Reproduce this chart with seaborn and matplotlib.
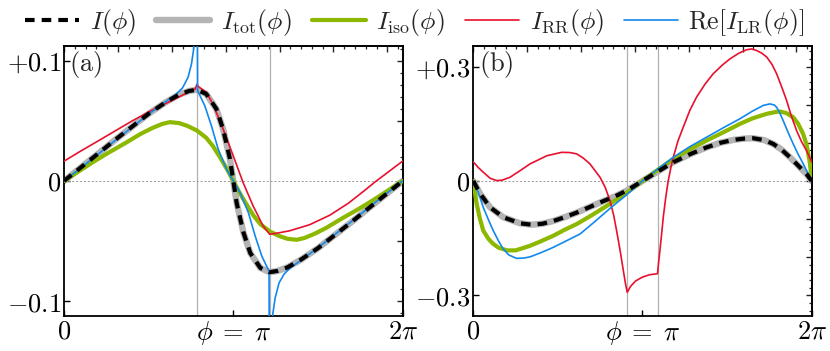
# Phase-dependent current curves, two panels (a) and (b), shared legend on top.
import numpy as np
import matplotlib
matplotlib.use("Agg")
import matplotlib.pyplot as plt
from matplotlib.ticker import MultipleLocator, NullFormatter
import seaborn as sns

# ---------------- data (phi in units of pi) ----------------
# panel (a): I and I_tot coincide
phi_I_a = [0, 0.1, 0.2, 0.3, 0.4, 0.5, 0.6, 0.68, 0.74, 0.785, 0.84, 0.9, 0.94, 0.98, 1.0,
           1.02, 1.06, 1.1, 1.16, 1.215, 1.26, 1.32, 1.4, 1.5, 1.6, 1.7, 1.8, 1.9, 2.0]
I_a = [0, 0.0113, 0.0226, 0.034, 0.045, 0.056, 0.0655, 0.072, 0.075, 0.076, 0.0725, 0.06, 0.043, 0.0185, 0.0,
       -0.0185, -0.043, -0.06, -0.0725, -0.076, -0.075, -0.072, -0.0655, -0.056, -0.045, -0.034, -0.0226, -0.0113, 0]

phi_iso_a = [0, 0.1, 0.17, 0.25, 0.37, 0.45, 0.52, 0.58, 0.625, 0.68, 0.73, 0.785, 0.84, 0.88, 0.92, 0.96, 1.0,
             1.04, 1.08, 1.12, 1.16, 1.215, 1.27, 1.32, 1.375, 1.42, 1.48, 1.55, 1.63, 1.75, 1.83, 1.9, 2.0]
iso_a = [0, 0.0092, 0.0156, 0.0225, 0.0322, 0.039, 0.044, 0.0475, 0.049, 0.0482, 0.0458, 0.042, 0.036, 0.029, 0.02, 0.0105, 0,
         -0.0105, -0.02, -0.029, -0.036, -0.042, -0.0458, -0.0482, -0.049, -0.0475, -0.044, -0.039, -0.0322, -0.0225, -0.0156, -0.0092, 0]

phi_rr_a = [0, 0.1, 0.2, 0.3, 0.4, 0.5, 0.6, 0.68, 0.74, 0.775, 0.785, 0.795, 0.84, 0.88, 0.94, 1.0,
            1.058, 1.117, 1.176, 1.215, 1.25, 1.333, 1.45, 1.57, 1.68, 1.77, 1.84, 1.92, 2.0]
rr_a = [0.0165, 0.025, 0.0332, 0.0415, 0.0498, 0.0575, 0.0645, 0.07, 0.0745, 0.0765, 0.0805, 0.0785, 0.074, 0.064, 0.0431, 0.0208,
        -0.0014, -0.0208, -0.0375, -0.0444, -0.0437, -0.0415, -0.0365, -0.0285, -0.0185, -0.0085, -0.0005, 0.008, 0.0165]

# Re[I_LR] in (a) diverges at the two vertical lines: three pieces
phi_lr_a1 = [0, 0.1, 0.2, 0.3, 0.4, 0.5, 0.6, 0.66, 0.7, 0.733, 0.753, 0.767, 0.776, 0.782]
lr_a1 = [0, 0.011, 0.0222, 0.0335, 0.0446, 0.0556, 0.066, 0.072, 0.0775, 0.0864, 0.0975, 0.111, 0.13, 0.2]
phi_lr_a2 = [0.786, 0.789, 0.8, 0.832, 0.871, 0.911, 0.96, 1.0, 1.04, 1.089, 1.129, 1.168, 1.2, 1.211, 1.214]
lr_a2 = [0.2, 0.075, 0.072, 0.0625, 0.0458, 0.0264, 0.0097, 0, -0.0097, -0.0264, -0.0458, -0.0625, -0.072, -0.075, -0.2]
phi_lr_a3 = [1.218, 1.224, 1.233, 1.247, 1.27, 1.3, 1.34, 1.4, 1.5, 1.6, 1.7, 1.8, 1.9, 2.0]
lr_a3 = [-0.2, -0.13, -0.111, -0.0975, -0.085, -0.0775, -0.072, -0.066, -0.0556, -0.0446, -0.0335, -0.0222, -0.011, 0]

# panel (b)
phi_I_b = [0, 0.04, 0.099, 0.177, 0.276, 0.345, 0.41, 0.473, 0.54, 0.611, 0.69, 0.768, 0.84, 0.91, 1.0,
           1.09, 1.182, 1.28, 1.379, 1.46, 1.537, 1.6, 1.655, 1.72, 1.773, 1.82, 1.872, 1.93, 1.97, 2.0]
I_b = [0, -0.033, -0.069, -0.095, -0.111, -0.1147, -0.112, -0.105, -0.095, -0.083, -0.068, -0.053, -0.04, -0.0245, 0,
       0.0245, 0.049, 0.07, 0.088, 0.1, 0.1076, 0.111, 0.112, 0.107, 0.097, 0.083, 0.062, 0.036, 0.018, 0]

phi_iso_b = [0, 0.02, 0.04, 0.059, 0.09, 0.118, 0.15, 0.2, 0.25, 0.335, 0.4, 0.473, 0.54, 0.611, 0.7, 0.808, 0.91, 1.0,
             1.09, 1.182, 1.28, 1.379, 1.48, 1.576, 1.65, 1.734, 1.79, 1.813, 1.85, 1.891, 1.92, 1.95, 1.97, 1.98, 1.99, 2.0]
iso_b = [0, -0.06, -0.1, -0.13, -0.152, -0.165, -0.175, -0.182, -0.182, -0.17, -0.158, -0.1436, -0.128, -0.113, -0.09, -0.06, -0.03, 0,
         0.029, 0.0577, 0.083, 0.106, 0.128, 0.1496, 0.164, 0.176, 0.181, 0.182, 0.178, 0.167, 0.15, 0.123, 0.095, 0.071, 0.045, 0.005]

phi_rr_b = [0, 0.03, 0.059, 0.1, 0.138, 0.17, 0.217, 0.27, 0.335, 0.434, 0.522, 0.57, 0.611, 0.65, 0.69, 0.749, 0.78,
            0.808, 0.83, 0.847, 0.867, 0.887, 0.9, 0.91, 0.93, 0.96, 1.0, 1.04, 1.089, 1.095, 1.103, 1.113, 1.123,
            1.137, 1.152, 1.167, 1.182, 1.21, 1.241, 1.28, 1.32, 1.37, 1.418, 1.47, 1.517, 1.57, 1.616, 1.645,
            1.675, 1.705, 1.734, 1.765, 1.793, 1.82, 1.852, 1.88, 1.911, 1.94, 1.97, 2.0]
rr_b = [0.05, 0.035, 0.023, 0.007, 0.001, 0.002, 0.0097, 0.025, 0.0446, 0.066, 0.075, 0.0745, 0.071, 0.06, 0.0446, 0.0097, -0.017,
        -0.0516, -0.09, -0.13, -0.18, -0.235, -0.27, -0.292, -0.276, -0.262, -0.252, -0.246, -0.243, -0.215, -0.183, -0.14, -0.095,
        -0.045, 0, 0.033, 0.062, 0.105, 0.141, 0.185, 0.22, 0.254, 0.281, 0.303, 0.32, 0.335, 0.344, 0.346,
        0.342, 0.335, 0.325, 0.306, 0.281, 0.25, 0.211, 0.17, 0.132, 0.103, 0.0795, 0.05]

phi_lr_b = [0, 0.03, 0.059, 0.09, 0.118, 0.15, 0.177, 0.21, 0.256, 0.3, 0.335, 0.4, 0.473, 0.55, 0.631, 0.72, 0.808, 0.91, 1.0,
            1.09, 1.182, 1.28, 1.379, 1.48, 1.576, 1.65, 1.714, 1.753, 1.78, 1.793, 1.81, 1.832, 1.86, 1.891, 1.92, 1.95, 1.975, 2.0]
lr_b = [0, -0.03, -0.069, -0.102, -0.13, -0.158, -0.178, -0.194, -0.203, -0.202, -0.199, -0.188, -0.174, -0.157, -0.139, -0.106, -0.072, -0.035, 0,
        0.031, 0.062, 0.09, 0.1147, 0.14, 0.163, 0.183, 0.198, 0.202, 0.199, 0.193, 0.18, 0.158, 0.128, 0.097, 0.07, 0.045, 0.022, 0.005]

vlines_a = [0.785, 1.215]
vlines_b = [0.91, 1.09]
ylim_a = 0.1125
ylim_b = 0.354
yticks_a = [-0.1, 0, 0.1]
yticklabels_a = [r"$-0.1$", r"$0$", r"$+0.1$"]
yticks_b = [-0.3, 0, 0.3]
yticklabels_b = [r"$-0.3$", r"$0$", r"$+0.3$"]
xticklabels = [r"$0$", r"$\phi\;=\;\pi$", r"$2\pi$"]

LABELS = [r"$I(\phi)$", r"$I_{\mathrm{tot}}(\phi)$", r"$I_{\mathrm{iso}}(\phi)$",
          r"$I_{\mathrm{RR}}(\phi)$", r"$\mathrm{Re}[I_{\mathrm{LR}}(\phi)]$"]

GRAY = "#b4b4b4"
GREEN = "#8cb800"
RED = "#e8102e"
BLUE = "#1188ee"

sns.set_theme(style="ticks")
plt.rcParams["font.family"] = ["DejaVu Serif"]
plt.rcParams["mathtext.fontset"] = "cm"
FS = 19


def line(ax, phi, y, color, lw, label, z):
    sns.lineplot(x=np.array(phi) * np.pi, y=y, ax=ax, color=color, lw=lw,
                 sort=False, estimator=None, legend=False, label=label, zorder=z)
    return ax.lines[-1]


def panel(ax, I, iso, rr, lr_parts, vl, ylim, yt, ytl, tag, right_major, right_minor):
    for v in vl:
        ax.axvline(v * np.pi, color="#b0b0b0", lw=0.9, zorder=1)
    ax.axhline(0, color="#9a9a9a", lw=0.7, ls=(0, (2, 2)), zorder=1)

    h_tot = line(ax, I[0], I[1], GRAY, 4.6, LABELS[1], 2)
    h_iso = line(ax, iso[0], iso[1], GREEN, 3.0, LABELS[2], 3)
    h_rr = line(ax, rr[0], rr[1], RED, 1.2, LABELS[3], 4)
    h_lr = None
    for k, (p, v) in enumerate(lr_parts):
        h = line(ax, p, v, BLUE, 1.2, LABELS[4] if k == 0 else None, 5)
        if k == 0:
            h_lr = h
    h_I = line(ax, I[0], I[1], "black", 3.0, LABELS[0], 6)
    h_I.set_dashes([2.3, 1.7])
    handles = [h_I, h_tot, h_iso, h_rr, h_lr]

    ax.set_xlim(0, 2 * np.pi)
    ax.set_ylim(-ylim, ylim)
    ax.set_xticks([0, np.pi, 2 * np.pi])
    ax.set_xticklabels(xticklabels)
    ax.set_yticks(yt)
    ax.set_yticklabels(ytl)
    ax.set_xlabel("")
    ax.set_ylabel("")
    ax.tick_params(direction="in", length=4, width=1, labelsize=FS, pad=2,
                   top=False, right=False, colors="black")
    ax.minorticks_off()
    for s in ax.spines.values():
        s.set_visible(True)
        s.set_linewidth(1.3)
        s.set_color("black")

    top = ax.secondary_xaxis("top")
    top.xaxis.set_major_locator(MultipleLocator(1.0))
    top.xaxis.set_minor_locator(MultipleLocator(0.2))
    top.xaxis.set_major_formatter(NullFormatter())
    top.tick_params(which="major", direction="in", length=4, width=1)
    top.tick_params(which="minor", direction="in", length=2.2, width=0.9)
    top.spines["top"].set_linewidth(1.3)

    rgt = ax.secondary_yaxis("right")
    rgt.yaxis.set_major_locator(MultipleLocator(right_major))
    rgt.yaxis.set_minor_locator(MultipleLocator(right_minor))
    rgt.yaxis.set_major_formatter(NullFormatter())
    rgt.tick_params(which="major", direction="in", length=4, width=1)
    rgt.tick_params(which="minor", direction="in", length=2.2, width=0.9)
    rgt.spines["right"].set_linewidth(1.3)

    ax.text(0.016, 0.988, tag, transform=ax.transAxes, ha="left", va="top", fontsize=FS)
    return handles


fig = plt.figure(figsize=(8.3, 3.51), dpi=100)
ax_a = fig.add_axes([0.0771, 0.0997, 0.408, 0.7695])
ax_b = fig.add_axes([0.5702, 0.0997, 0.4077, 0.7695])

handles = panel(ax_a, (phi_I_a, I_a), (phi_iso_a, iso_a), (phi_rr_a, rr_a),
                [(phi_lr_a1, lr_a1), (phi_lr_a2, lr_a2), (phi_lr_a3, lr_a3)],
                vlines_a, ylim_a, yticks_a, yticklabels_a, r"$\mathrm{(a)}$", 0.05, 0.01)
panel(ax_b, (phi_I_b, I_b), (phi_iso_b, iso_b), (phi_rr_b, rr_b),
      [(phi_lr_b, lr_b)], vlines_b, ylim_b, yticks_b, yticklabels_b, r"$\mathrm{(b)}$", 0.1, 0.02)

fig.legend(handles, LABELS, loc="center", bbox_to_anchor=(0.5, 0.937), ncol=5,
           frameon=False, fontsize=18.5, handlelength=2.1, handletextpad=0.4,
           columnspacing=0.8, borderpad=0, borderaxespad=0)

fig.savefig("out.png", dpi=100)
